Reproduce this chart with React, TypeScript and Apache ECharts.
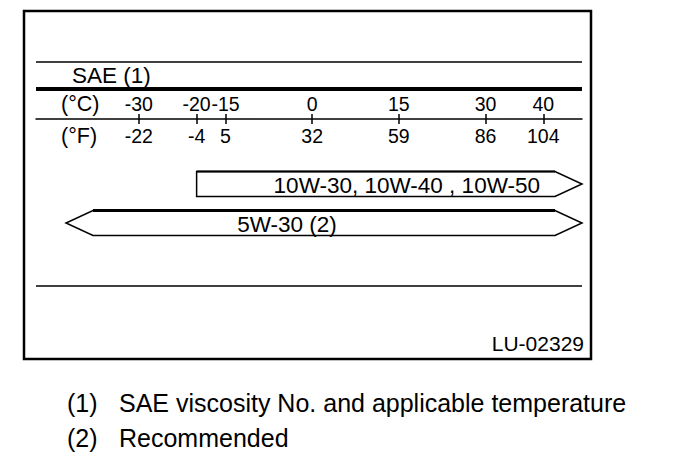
import React, { useEffect, useRef } from "react";
import * as echarts from "echarts";

// ---- data ----
const celsiusTicks = [-30, -20, -15, 0, 15, 30, 40];
const fahrenheitTicks = [-22, -4, 5, 32, 59, 86, 104];
const oilGrades = ["10W-30, 10W-40 , 10W-50", "5W-30 (2)"];
// lower / upper applicable temperature (°C); null = open ended (arrow)
const gradeMinC: (number | null)[] = [-20, null];
const gradeMaxC: (number | null)[] = [null, null];
const titleText = "SAE (1)";
const celsiusUnit = "(°C)";
const fahrenheitUnit = "(°F)";
const figureId = "LU-02329";
const notes = [
  ["(1)", "SAE viscosity No. and applicable temperature"],
  ["(2)", "Recommended"],
];

// ---- layout / style ----
const FONT = '"Liberation Sans", Arial, Helvetica, sans-serif';
const AX_MIN = -47.8;
const AX_MAX = 46.7;
const GRID_L = 36;
const GRID_W = 546;
const AXIS_Y = 119;
const ARROW_H = 25;
const TIP = 27;
const OPEN_LEFT_INSET = 30;
const labelPlacement = [
  { from: "end", dx: -15, align: "right" },
  { from: "start", dx: 194, align: "center" },
];

export default function App() {
  const ref = useRef<HTMLDivElement>(null);
  useEffect(() => {
    if (!ref.current) return;
    const chart = echarts.init(ref.current, null, { renderer: "svg" });
    const black = "#000";
    const line = (y: number, w: number) => ({
      type: "line",
      shape: { x1: GRID_L, y1: y, x2: GRID_L + GRID_W, y2: y },
      style: { stroke: black, lineWidth: w },
      silent: true,
    });
    const txt = (x: number, y: number, text: string, size: number, align = "left") => ({
      type: "text",
      x,
      y,
      style: {
        text,
        fill: black,
        fontSize: size,
        fontFamily: FONT,
        align,
        verticalAlign: "middle",
      },
      silent: true,
    });
    const fIndex = (v: number) => fahrenheitTicks[celsiusTicks.indexOf(v)];
    const tickStyle = { color: black, width: 1.5 };
    const labelBase = { fontSize: 19.5, fontFamily: FONT, color: black, hideOverlap: false };

    chart.setOption({
      animation: false,
      backgroundColor: "#fff",
      grid: [
        { left: GRID_L, width: GRID_W, top: AXIS_Y, height: 100 },
        { left: GRID_L, width: GRID_W, top: AXIS_Y, height: 100 },
        { left: GRID_L, width: GRID_W, top: 184, height: 39 },
      ],
      xAxis: [
        {
          type: "value",
          gridIndex: 0,
          position: "top",
          min: AX_MIN,
          max: AX_MAX,
          splitLine: { show: false },
          axisLine: { show: true, onZero: false, lineStyle: { color: black, width: 1.5 } },
          axisTick: { show: true, inside: false, length: 5, customValues: celsiusTicks, lineStyle: tickStyle },
          axisLabel: { ...labelBase, customValues: celsiusTicks, margin: 5 },
        },
        {
          type: "value",
          gridIndex: 1,
          position: "top",
          min: AX_MIN,
          max: AX_MAX,
          splitLine: { show: false },
          axisLine: { show: false, onZero: false },
          axisTick: { show: true, inside: true, length: 5, customValues: celsiusTicks, lineStyle: tickStyle },
          axisLabel: {
            ...labelBase,
            inside: true,
            customValues: celsiusTicks,
            margin: 7,
            formatter: (v: number) => String(fIndex(v)),
          },
        },
        { type: "value", gridIndex: 2, min: AX_MIN, max: AX_MAX, show: false },
      ],
      yAxis: [
        { type: "value", gridIndex: 0, min: 0, max: 1, show: false },
        { type: "value", gridIndex: 1, min: 0, max: 1, show: false },
        { type: "value", gridIndex: 2, min: 0, max: 1, inverse: true, show: false },
      ],
      series: [
        {
          type: "custom",
          xAxisIndex: 2,
          yAxisIndex: 2,
          clip: false,
          data: oilGrades.map((_, i) => [gradeMinC[i] ?? AX_MIN, i]),
          renderItem: (params: any, api: any) => {
            const i = params.dataIndex;
            const cs = params.coordSys;
            const yc = api.coord([0, i])[1];
            const top = yc - ARROW_H / 2;
            const bot = yc + ARROW_H / 2;
            const lo = gradeMinC[i];
            const hi = gradeMaxC[i];
            const leftX = lo == null ? cs.x + OPEN_LEFT_INSET : api.coord([lo, i])[0];
            const rightX = hi == null ? cs.x + cs.width : api.coord([hi, i])[0];
            const bodyStart = lo == null ? leftX + TIP : leftX;
            const bodyEnd = hi == null ? rightX - TIP : rightX;
            const pts: number[][] = [];
            pts.push([bodyStart, top]);
            pts.push([bodyEnd, top]);
            if (hi == null) pts.push([rightX, yc]);
            pts.push([bodyEnd, bot]);
            pts.push([bodyStart, bot]);
            if (lo == null) pts.push([leftX, yc]);
            const lp = labelPlacement[i];
            const lx = (lp.from === "end" ? bodyEnd : bodyStart) + lp.dx;
            return {
              type: "group",
              children: [
                {
                  type: "polygon",
                  shape: { points: pts },
                  style: { fill: "#fff", stroke: black, lineWidth: 1.5, lineJoin: "miter" },
                },
                {
                  type: "polyline",
                  shape: { points: [[bodyStart, top], [bodyEnd, top]] },
                  style: { stroke: black, lineWidth: i === 1 ? 3 : 2, fill: null },
                },
                {
                  type: "text",
                  x: lx,
                  y: yc + 1,
                  style: {
                    text: oilGrades[i],
                    fill: black,
                    fontSize: 22.5,
                    fontFamily: FONT,
                    align: lp.align,
                    verticalAlign: "middle",
                  },
                },
              ],
            };
          },
        },
      ],
      graphic: [
        {
          type: "rect",
          shape: { x: 24, y: 11, width: 567, height: 348 },
          style: { fill: "none", stroke: black, lineWidth: 2.5 },
          silent: true,
        },
        line(62, 1.5),
        line(89, 4),
        line(286, 1.5),
        txt(72, 75, titleText, 22.5),
        txt(61, 104, celsiusUnit, 21.5),
        txt(61, 136, fahrenheitUnit, 21.5),
        txt(584, 343, figureId, 21, "right"),
        txt(67, 403, notes[0][0], 25),
        txt(119, 403, notes[0][1], 25),
        txt(67, 438, notes[1][0], 25),
        txt(119, 438, notes[1][1], 25),
      ],
    });
    return () => chart.dispose();
  }, []);
  return (
    <div
      ref={ref}
      style={{ position: "fixed", left: 0, top: 0, width: 688, height: 460, background: "#fff" }}
    />
  );
}
